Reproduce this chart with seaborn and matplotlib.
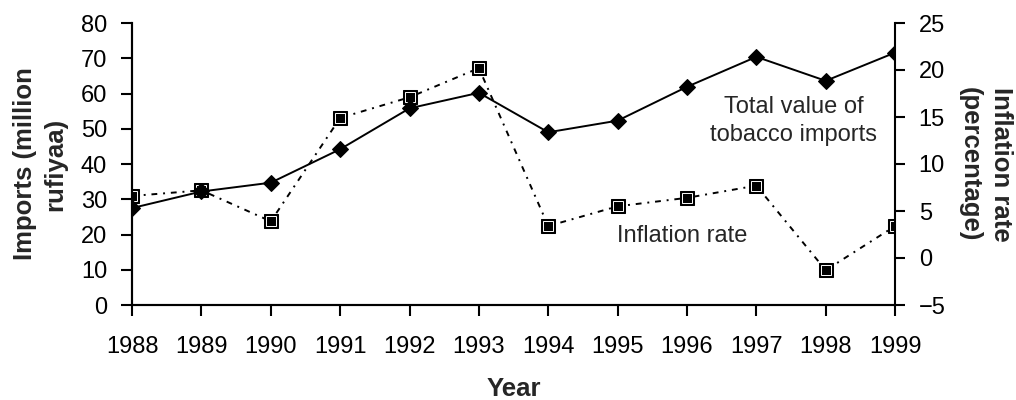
import matplotlib
matplotlib.use("Agg")
import matplotlib.pyplot as plt
import seaborn as sns
import pandas as pd

years = [1988, 1989, 1990, 1991, 1992, 1993, 1994, 1995, 1996, 1997, 1998, 1999]
imports = [27.5, 32.2, 34.7, 44.2, 55.8, 60.2, 49.0, 52.3, 61.9, 70.4, 63.6, 71.6]
inflation = [6.6, 7.2, 3.9, 14.9, 17.1, 20.2, 3.4, 5.5, 6.4, 7.7, -1.3, 3.4]

sns.set_style("white")
plt.rcParams['font.family'] = ['Liberation Sans', 'DejaVu Sans']

df = pd.DataFrame({"year": years, "imports": imports, "inflation": inflation})

fig = plt.figure(figsize=(10.16, 4), dpi=100)
ax = fig.add_axes([0.13, 0.2375, 0.751, 0.705])
ax2 = ax.twinx()

# inflation (right axis), dash-dot line with square markers
sns.lineplot(data=df, x="year", y="inflation", ax=ax2, color="black",
             linewidth=1.4, linestyle=(0, (3, 3, 1, 3)), marker="s",
             markersize=10, markerfacecolor="black", markeredgecolor="black")
ax2.plot(df["year"], df["inflation"], linestyle="none", marker="s", markersize=7.5,
         markerfacecolor="black", markeredgecolor="white", markeredgewidth=0.7)

# imports (left axis), solid line with diamonds
sns.lineplot(data=df, x="year", y="imports", ax=ax, color="black",
             linewidth=1.4, marker="D", markersize=8.5,
             markerfacecolor="black", markeredgecolor="black")

ax.set_zorder(ax2.get_zorder() + 1)
ax.patch.set_visible(False)

ax.set_xlim(1988, 1999)
ax.set_ylim(0, 80)
ax2.set_ylim(-5, 25)
ax.set_xticks(years)
ax.set_yticks(range(0, 81, 10))
ax2.set_yticks(range(-5, 26, 5))

for a in (ax, ax2):
    for s in a.spines.values():
        s.set_linewidth(1.5)
        s.set_color("black")
    a.spines["top"].set_visible(False)
ax.spines["right"].set_visible(False)

ax.tick_params(axis="x", direction="out", length=8, width=1.5, labelsize=17,
               bottom=True, colors="black", pad=14)
ax.tick_params(axis="y", direction="out", length=8, width=1.5, labelsize=17,
               left=True, colors="black", pad=10)
ax2.tick_params(axis="y", direction="out", length=7, width=1.5, labelsize=17,
                right=True, colors="black", pad=10)

ax.set_xlabel("Year", fontsize=18.5, fontweight="bold", va="center")
ax.xaxis.set_label_coords(0.5, -0.298)
ax.set_ylabel("Imports (million\nrufiyaa)", fontsize=18.5, fontweight="bold",
              va="center", ha="center", linespacing=1.35)
ax.yaxis.set_label_coords(-0.1206, 0.5)
ax2.set_ylabel("Inflation rate\n(percentage)", fontsize=18.5, fontweight="bold",
               rotation=270, va="center", ha="center", linespacing=1.4)
ax2.yaxis.set_label_coords(1.118, 0.5)

ax.text(1997.54, 52.2, "Total value of\ntobacco imports", fontsize=17,
        ha="center", va="center", linespacing=1.4)
ax.text(1995.93, 17.9, "Inflation rate", fontsize=17, ha="center", va="baseline")

fig.savefig("out.png", dpi=100)
